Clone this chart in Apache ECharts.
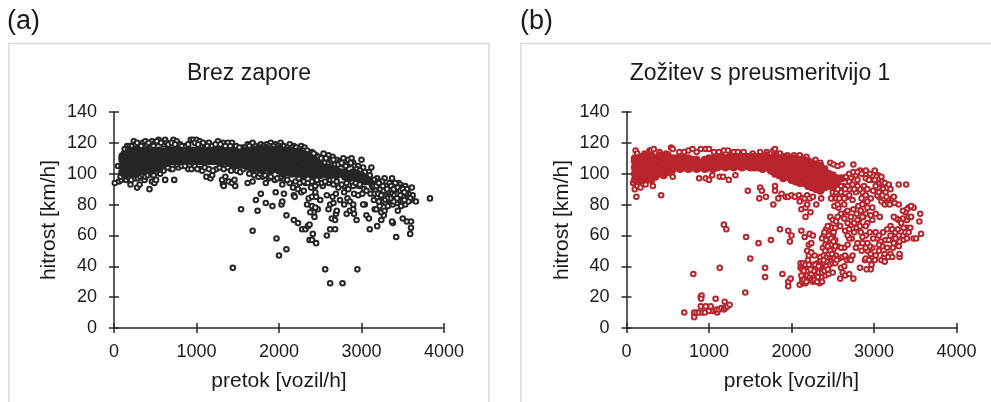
<!DOCTYPE html>
<html><head><meta charset="utf-8">
<style>html,body{margin:0;padding:0;background:#fff}#c{width:991px;height:402px}</style>
<script src="https://cdn.jsdelivr.net/npm/echarts@6/dist/echarts.min.js"></script>
</head><body><div id="c"></div>
<script>
const titleA = 'Brez zapore';
const titleB = 'Zožitev s preusmeritvijo 1';
const xName = 'pretok [vozil/h]';
const yName = 'hitrost [km/h]';
// dense band, [flow, speeds...]
const coreA = [[100,101,105,109,111],[150,100,104,108,112],[200,101,105,109,113,115],[250,100,104,108,112,115],[300,101,105,109,113,115],[350,102,106,110,114],[400,103,107,111,115],[450,102,106,110,114],[500,105,109,113,115],[550,103,107,111,115],[600,106,110,114],[650,107,111,115],[700,108,112,115],[750,108,112,115],[800,108,112,115],[850,109,113],[900,108,112,115],[950,108,112,115],[1000,108,112,115],[1050,108,112,115],[1100,108,112,115],[1150,108,112,115],[1200,108,112,115],[1250,108,112,115],[1300,107,111,115],[1350,108,112,114],[1400,107,111,114],[1450,106,110,114],[1500,106,110,113],[1550,106,110,114],[1600,105,109,113,115],[1650,104,108,112,115],[1700,103,107,111,115],[1750,104,108,112,116],[1800,102,106,110,114,116],[1850,104,108,112,116],[1900,102,106,110,114,116],[1950,103,107,111,115],[2000,102,106,110,114,116],[2050,100,104,108,112,115],[2100,101,105,109,113,115],[2150,100,104,108,112,115],[2200,100,104,108,112,114],[2250,100,104,108,112,114],[2300,99,103,107,111,113],[2350,100,104,108,112],[2400,99,103,107,110],[2450,100,104,108],[2500,99,103,106],[2550,100,104],[2600,99,102,104],[2650,100,103],[2700,99,102],[2750,100,101],[2800,98,101],[2850,97,100],[2900,98,101],[2950,97,100],[3000,97,99],[3050,95,97],[3100,95]];
const ringsA = [[10,94],[60,95],[90,96],[50,105],[80,98],[200,93],[280,91],[310,93],[370,96],[430,90],[460,95],[490,94],[510,96],[620,96],[730,96],[690,103],[780,104],[900,103],[960,104],[1040,103],[1070,102],[1120,98],[1170,97],[1190,99],[1240,103],[1310,96],[1320,93],[1330,92],[1350,98],[1390,95],[1430,94],[1470,92],[1460,96],[1620,94],[1680,95],[1800,98],[1840,94],[1880,97],[1950,96],[2010,97],[2040,93],[2130,94],[2170,91],[2180,86],[2190,85],[2230,90],[2270,88],[2300,89],[2250,94],[2320,94],[2390,91],[2440,92],[2480,94],
[120,113],[160,118],[190,118],[240,121],[300,119],[350,120],[380,121],[440,119],[460,121],[500,120],[540,122],[600,119],[620,122],[640,120],[720,122],[760,121],[800,119],[860,118],[930,122],[960,122],[1000,122],[1040,121],[1100,119],[1150,120],[1260,121],[1320,120],[1380,120],[1430,120],[1480,118],[1560,117],[1620,119],[1660,119],[1680,120],[1780,119],[1850,119],[1900,120],[1960,119],[2020,120],[2040,118],[2130,119],[2180,118],[2270,118],[2310,117],[2380,113],[2450,112],[2540,113],[2600,112],[2650,111],[2700,109],[2740,108],[2780,110],[2840,109],[2880,110],[2900,107],[2920,105],[2960,105],[3000,109],[3020,104],[3060,100],[3090,101],[3120,104],[2550,107],[2620,109],[2680,106],[2780,106],[2850,106],
[1440,39],[1540,77],[1680,63],[1720,83],[1740,76],[1780,87],[1840,81],[1920,79],[1960,88],[1970,58],[2000,47],[2030,80],[2040,82],[2060,87],[2090,73],[2090,51],[2180,70],[2230,68],[2280,64],[2320,64],[2350,66],[2370,67],[2370,57],[2400,57],[2410,61],[2450,55],[2560,38],[2620,29],[2770,29],[2950,38],[2580,60],[2620,64],[2680,64],[2640,71],[2680,70],[2690,74],[2700,76],[2600,77],[2620,80],[2650,85],[2580,86],[2500,83],[2470,77],[2430,72],[2420,75],[2380,75],[2400,79],[2440,78],[2340,80],[2360,84],[2400,85],[2450,85],[2440,88],[2660,81],[2690,87],[2740,83],[2790,80],[2790,88],[2830,84],[2860,82],[2900,80],[2910,87],[2960,86],[3010,87],[2820,74],[2860,76],[2900,77],[2910,74],[2940,70],[3100,64],[3060,73],[3090,71],[3190,66],[3240,70],[3270,73],[3160,77],[3180,77],[3220,79],[3240,75],[3280,76],[3040,80],[3020,80],[3380,68],[3370,69],[3420,59],[3440,76],[3500,71],[3550,69],[3600,69],[3600,65],[3590,61],[3620,86],[3620,83],[3660,82],[3830,84],[3480,79],[3530,80],
[2530,92],[2600,94],[2660,93],[2720,91],[2790,92],[2840,90],[2900,92],[2970,92],[3030,90],[3060,89],[3110,87],[3140,91],[3170,94],[3190,97],[3220,93],[3250,90],[3280,97],[3300,92],[3320,88],[3340,85],[3370,97],[3380,93],[3400,89],[3410,84],[3430,81],[3450,94],[3470,93],[3490,88],[3510,85],[3530,92],[3550,90],[3570,87],[3610,91],[3590,84],[3570,82],[3150,83],[3190,85],[3230,88],[3260,84],[3290,81],[3320,79],[3360,82],[3380,80],[3400,86],[3440,87],[3460,83],[3500,82],[3130,92],[3170,89],[3210,91],[3250,95],[3150,96],[3200,95],[3280,86],[3350,90],[3420,92],[3480,91],[3540,87],[3520,83],
[110,100],[130,97],[150,96],[170,98],[190,97],[210,96],[230,99],[260,97],[290,97],[320,98],[350,99],[380,98],[410,99],[450,100],[480,99],[530,101],[560,100],[600,102],[650,104],[710,103],[760,106],[820,105],[860,105],[940,103],[980,105],[1010,103],[1100,104],[1150,103],[1200,102],[1280,104],[1330,103],[1380,104],[1420,102],[1490,102],[1530,101],[1570,103],[1640,100],[1700,99],[1750,98],[1770,100],[1830,99],[1900,98],[1980,97],[2030,98],[2070,96],[2100,96],[2200,95],[2240,97],[2300,95],[2350,94],[2400,95],[2460,96],[2520,94],[2560,95],[2620,96],[2660,96],[2700,95],[2760,93],[2820,94],[2880,95],[2930,94],[2980,93],
[100,112],[130,116],[170,116],[220,118],[260,119],[280,120],[330,118],[400,119],[420,120],[480,118],[520,121],[570,120],[660,119],[700,120],[740,119],[820,118],[900,119],[980,120],[1020,119],[1080,120],[1130,118],[1190,118],[1230,119],[1290,119],[1350,118],[1410,118],[1520,117],[1590,117],[1640,118],[1720,118],[1750,117],[1810,118],[1880,118],[1930,118],[1990,118],[2060,118],[2100,117],[2160,117],[2210,117],[2250,116],[2290,115],[2340,115],[2400,114],[2420,113],[2480,111],[2510,110],[2570,110],[2640,108],[2660,109],[2720,106],[2760,107],[2810,105],[2870,107],[2940,103],[2980,102],[3040,101],[3100,99],
[3120,94],[3150,92],[3180,92],[3210,94],[3230,90],[3260,92],[3290,88],[3160,87],[3200,87],[3240,86],[3270,89],[3310,90],[3340,94],[3360,92],[3390,90],[3410,94],[3440,91],[3470,89],[3500,90],[3520,88],[3470,86],[3430,84],[3390,82],[3350,84],[3310,84],[3280,83],[3240,82],[3210,82]];
const coreB = [[100,96,100,104,108,110],[150,95,99,103,107,110],[200,96,100,104,108,111],[250,97,101,105,109,112],[300,96,100,104,108,112],[350,98,102,106,110],[400,100,104,108,112],[450,99,103,107,111],[500,101,105,109,112],[550,102,106,110],[600,104,107,110],[650,103,107,110],[700,104,107,110],[750,103,106,110],[800,104,107,109],[850,103,106,109],[900,104,107],[950,103,106,109],[1000,104,107,110],[1050,103,106,110],[1100,104,107,110],[1150,105,108,111],[1200,104,108,110],[1250,105,108,111],[1300,104,108,111],[1350,105,108,111],[1400,104,108,111],[1450,105,108,111],[1500,104,108,111],[1550,104,108,111],[1600,104,108,111],[1650,103,107,111],[1700,104,108,112],[1750,102,106,110],[1800,100,104,108,112],[1850,99,103,107,110],[1900,97,101,105,109,111],[1950,98,102,106,110],[2000,96,100,104,108,110],[2050,95,99,103,107,110],[2100,94,98,102,106,109],[2150,94,98,102,106,109],[2200,92,96,100,104,108],[2250,91,95,99,103,107],[2300,90,94,98,102,106],[2350,89,93,97,101,105],[2400,91,95,99,103],[2450,92,96,100],[2500,92,96,99],[2550,94,97],[2600,97]];
const ringsB = [[80,94],[100,90],[120,85],[130,92],[170,91],[230,93],[320,92],[420,86],[560,98],[880,97],[960,97],[1000,96],[1040,99],[1130,98],[1170,98],[1240,96],[1320,99],[1470,89],[1610,84],[1620,91],[1640,89],[1690,85],[1780,80],[1800,89],[1800,92],[1840,84],[1880,87],[1930,85],[1960,85],[2000,86],[2040,85],[2090,86],[2130,84],[2160,84],[2190,86],[2220,84],[2260,85],[2100,82],[2120,77],[2170,72],[2170,78],[2190,80],[2230,75],[2300,80],[2360,84],
[110,115],[130,113],[160,111],[220,113],[280,115],[300,115],[330,116],[400,114],[480,113],[540,117],[560,116],[640,114],[700,114],[750,115],[800,116],[850,114],[900,116],[960,116],[1000,116],[1060,114],[1120,114],[1180,115],[1230,115],[1300,114],[1350,114],[1420,114],[1530,113],[1620,114],[1700,114],[1780,115],[1800,116],[1860,113],[1950,112],[2030,112],[2100,112],[2180,111],[2290,109],[2350,107],[2470,107],[2510,106],[2560,105],[2610,106],[2750,106],
[700,10],[820,7],[820,10],[850,10],[880,10],[900,14],[920,10],[960,14],[950,10],[1000,11],[1020,14],[1050,11],[1080,11],[1100,10],[1090,12],[1120,12],[1150,13],[1180,12],[1200,13],[1190,17],[1220,14],[1250,15],[1080,19],[900,20],[910,21],[905,19],[810,35],[1130,39],[1180,67],[1210,64],[1440,23],[1450,59],[1500,45],[1600,55],[1680,33],[1680,39],[1750,57],[1860,64],[1890,35],[1960,27],[1960,30],[1990,32],[1980,56],[2000,60],[1960,63],[2100,28],[2120,63],
[2140,29],[2170,29],[2130,31],[2160,33],[2120,34],[2110,39],[2110,42],[2140,42],[2130,38],[2180,35],[2200,31],[2220,36],[2190,39],[2230,40],[2250,37],[2280,35],[2300,32],[2340,29],[2370,30],[2260,33],[2290,38],[2330,36],[2310,42],[2350,40],[2380,38],[2410,34],[2450,35],[2500,36],[2360,33],[2200,44],[2210,47],[2280,47],[2190,50],[2210,54],[2240,55],[2160,59],[2220,61],[2260,60],[2240,49],[2350,44],[2370,41],[2400,42],[2430,43],[2460,41],[2480,44],[2500,42],[2530,42],[2420,47],[2440,50],[2380,52],[2410,54],[2450,56],[2480,54],[2510,51],[2540,47],[2580,45],[2620,46],[2640,52],[2670,44],[2700,45],[2720,44],[2390,60],[2420,64],[2460,66],[2490,65],[2370,58],[2500,60],[2530,57],[2560,53],[2600,52],[2470,72],[2500,70],[2540,69],[2480,61],
[2590,32],[2600,39],[2640,40],[2620,36],[2650,34],[2700,35],[2750,32],[2830,39],[2960,38],[2910,38],[2890,44],[2970,41],[3090,44],[3120,46],[3130,43],[3200,48],[3220,46],[3310,46],[3230,52],[3310,48],[3300,53],[3310,56],[3360,57],[3480,58],[3570,61],[3400,58],[3400,65],[3350,60],[3360,65],[3550,69],[3560,74],[3480,78],[3420,78],[3400,77],[3380,75],[3350,71],[3400,70],[3300,70],[3270,71],[3240,72],[3200,66],[3220,64],[3260,62],[3300,60],[3200,60],[3140,57],[3080,56],[3060,50],[3020,47],[2980,52],[2950,53],[2920,50],[2900,45],[2850,50],[2800,55],[2780,52],[2740,47],[2730,58],[2700,58],[2680,60],[2760,62],[2790,65],[2720,67],[2680,68],[2640,71],[2660,75],[2600,74],[2570,78],[2520,79],[2540,84],[2490,84],[2500,88],[2600,88],[2620,85],[2680,85],[2740,83],[2700,90],[2680,92],[2640,97],[2720,97],[2780,99],[2800,96],[2830,102],[2900,102],[2950,100],[2970,96],[2880,92],[2920,90],[2990,89],[3010,102],[3050,99],[3080,96],[3100,92],[3060,92],[3120,88],[3060,85],[3090,82],[3130,80],[3170,83],[3220,84],[3250,81],[3300,93],[3390,93],[3300,80],[3350,76],[3450,79],[3510,58],[3420,72],[3440,65],[2850,84],[2880,81],[2920,78],[2840,76],[2900,74],[2960,73],[2790,74],[2820,70],[2870,72],[2920,68],[2980,70],[3020,74],[3070,72],[2900,60],[2920,55],[2960,48],[3040,58],[3100,53],[3160,52],[3180,57],[2750,77],[2810,79],[2860,88],[2830,90],[2780,88],[2640,80],[2560,72],[2590,66],[2650,63],[2700,64],[2830,66],[2860,59],[2840,62],[2680,54],[2650,47],
[2130,30],[2150,31],[2180,30],[2200,33],[2170,36],[2150,37],[2190,34],[2220,33],[2240,31],[2260,30],[2280,31],[2310,30],[2320,33],[2240,35],[2270,37],[2200,37],[2230,38],[2260,41],[2290,41],[2170,41],[2210,41],[2330,40],[2370,36],[2400,37],[2390,44],[2420,40],[2440,38],[2350,46],[2390,47],[2430,46],[2470,46],[2500,46],[2450,48],[2410,50],[2440,53],[2470,50],[2490,48],[2520,45],[2550,44],[2420,57],[2450,60],[2480,58],[2510,56],[2530,53],[2400,62],[2440,66],[2510,62],[2530,65],
[3030,98],[3050,96],[3070,94],[3090,98],[3100,95],[3110,90],[3130,94],[3050,91],[3080,88],[3120,84],[3150,85],[3140,88],[3170,81],[3190,80],[3040,86],[3060,88],[3100,86],[3020,92],[3010,96],[3200,90],[3240,85],[3180,93],[2620,92],[2650,90],[2700,95],[2740,93],[2660,98],[2700,100],[2750,101],[2800,101],[2850,100],[2900,97],[2940,96],[2800,92],[2760,90],[2700,86],[2640,84],[2580,84],[2540,88],[2600,92],[2560,90],[2520,92],[2480,84],[2560,80],[2860,80],[2900,86],[2960,84],[2860,72],[2920,82],[2980,78],
[2800,70],[2760,68],[2720,72],[2680,76],[2900,66],[2950,62],[2990,58],[3020,62],[3060,60],[3110,62],[3160,64],[2860,55],[2900,52],[2940,44],[3010,44],[3060,54],[3130,48],[3170,46],[3240,55],[3260,58],[3290,64],[3330,68],[3380,62],[3420,62],[3450,72]];

const dark = '#262626', red = '#b8252d';
function coreData(rows){const out=[];rows.forEach(r=>{for(let i=1;i<r.length;i++)out.push([r[0],r[i]]);});return out;}
const g1={left:114,top:112,width:330,height:216}, g2={left:626.5,top:112,width:330,height:216};
const axLine={lineStyle:{color:'#262626',width:1.5}};
const lab={color:'#1a1a1a',fontSize:18,fontFamily:'Liberation Sans'};
const nameSt={color:'#1a1a1a',fontSize:21,fontFamily:'Liberation Sans'};
const plain=v=>String(v);
function xAxes(i){return [
 {type:'value',gridIndex:i,min:0,max:4000,interval:1000,name:xName,nameLocation:'middle',nameGap:43,nameTextStyle:nameSt,axisLine:axLine,axisTick:{show:true,length:5,lineStyle:{color:'#262626',width:1.5}},axisLabel:Object.assign({margin:15,hideOverlap:false,formatter:plain},lab),splitLine:{show:false}},
 {type:'value',gridIndex:i,position:'bottom',min:0,max:4000,interval:1000,axisLine:{show:false},axisTick:{show:true,inside:true,length:5,lineStyle:{color:'#262626',width:1.5}},axisLabel:{show:false},splitLine:{show:false}}];}
function yAxes(i){return [
 {type:'value',gridIndex:i,min:0,max:140,interval:20,name:yName,nameLocation:'middle',nameGap:54,nameTextStyle:nameSt,axisLine:axLine,axisTick:{show:true,length:5,lineStyle:{color:'#262626',width:1.5}},axisLabel:Object.assign({margin:17,formatter:plain},lab),splitLine:{show:false}},
 {type:'value',gridIndex:i,position:'left',min:0,max:140,interval:20,axisLine:{show:false},axisTick:{show:true,inside:true,length:5,lineStyle:{color:'#262626',width:1.5}},axisLabel:{show:false},splitLine:{show:false}}];}
const ring=(d,c,xi,yi)=>({type:'scatter',xAxisIndex:xi,yAxisIndex:yi,data:d,symbol:'circle',symbolSize:4.6,silent:true,animation:false,large:false,itemStyle:{color:'#fff',borderColor:c,borderWidth:2,opacity:1}});
const solid=(d,c,xi,yi)=>({type:'scatter',xAxisIndex:xi,yAxisIndex:yi,data:d,symbol:'circle',symbolSize:8,silent:true,animation:false,itemStyle:{color:c,opacity:1},z:3});
const card=(x,w)=>({type:'rect',shape:{x:x,y:43.5,width:w,height:400},style:{fill:'#fff',stroke:'#d9d9d9',lineWidth:1.5},z:-10});
const titleSt={fontSize:23,color:'#1a1a1a',fontFamily:'Liberation Sans',fontWeight:'normal'};
const tag=(x,t)=>({type:'text',x:x,y:8,style:{text:t,font:'27px "Liberation Sans"',fill:'#1a1a1a'}});
const chart=echarts.init(document.getElementById('c'),null,{renderer:'canvas'});
chart.setOption({animation:false,backgroundColor:'#fff',
 graphic:[card(9,480),card(521,480),tag(7,'(a)'),tag(520,'(b)')],
 title:[{text:titleA,left:244,top:57,textAlign:'center',textStyle:titleSt},{text:titleB,left:755,top:57,textAlign:'center',textStyle:titleSt}],
 grid:[g1,g2],
 xAxis:[...xAxes(0),...xAxes(1)],
 yAxis:[...yAxes(0),...yAxes(1)],
 series:[ring(ringsA,dark,0,0),solid(coreData(coreA),dark,0,0),ring(ringsB,red,2,2),solid(coreData(coreB),red,2,2)]
});
</script></body></html>
